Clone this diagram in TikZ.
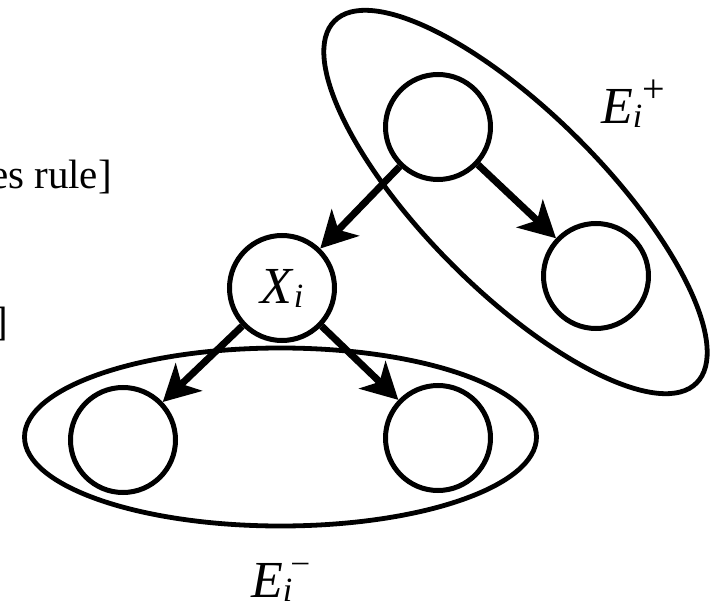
\documentclass[tikz,border=0pt]{standalone}
\usepackage{fontspec}
\setmainfont{Liberation Serif}
\usetikzlibrary{arrows.meta,shapes.geometric}
\newcommand\subi{\raisebox{-4pt}{\fontsize{34}{34}\selectfont\itshape i}}
\begin{document}
\begin{tikzpicture}[x=1pt,y=-1pt,
  var/.style={circle,draw,line width=5pt,minimum size=105pt,inner sep=0pt},
  group/.style={ellipse,draw,line width=4.8pt,minimum width=512pt,minimum height=178pt,inner sep=0pt},
  edge/.style={line width=7pt,-{Stealth[length=36pt,width=38pt,inset=10pt]}},
  lab/.style={inner sep=0pt,anchor=base west,font=\fontsize{52}{52}\selectfont},
  cut/.style={inner sep=0pt,anchor=base east,font=\fontsize{41}{41}\selectfont}]
\useasboundingbox (0,0) rectangle (718,604);
\node[group,rotate=-45] (gplus) at (515.5,202) {};
\node[group] (gminus) at (280.5,437) {};
\node[var] (top) at (438,127) {};
\node[var] (right) at (596,276) {};
\node[var,font=\fontsize{52}{52}\selectfont] (x) at (282,288) {\textit{X}\subi};
\node[var] (bl) at (123,440) {};
\node[var] (br) at (438,438) {};
\draw[edge] (top) -- (x);
\draw[edge] (top) -- (right);
\draw[edge] (x) -- (bl);
\draw[edge] (x) -- (br);
\node[lab] (eplus) at (601,124) {\textit{E}\subi\raisebox{0.42em}{\fontsize{40}{40}\selectfont +}};
\node[lab] (eminus) at (251,597) {\textit{E}\subi\raisebox{0.5em}{\fontsize{32}{32}\selectfont –}};
\node[cut] (t1) at (112,189) {es rule]};
\node[cut] (t2) at (8,335) {]};
\end{tikzpicture}
\end{document}
